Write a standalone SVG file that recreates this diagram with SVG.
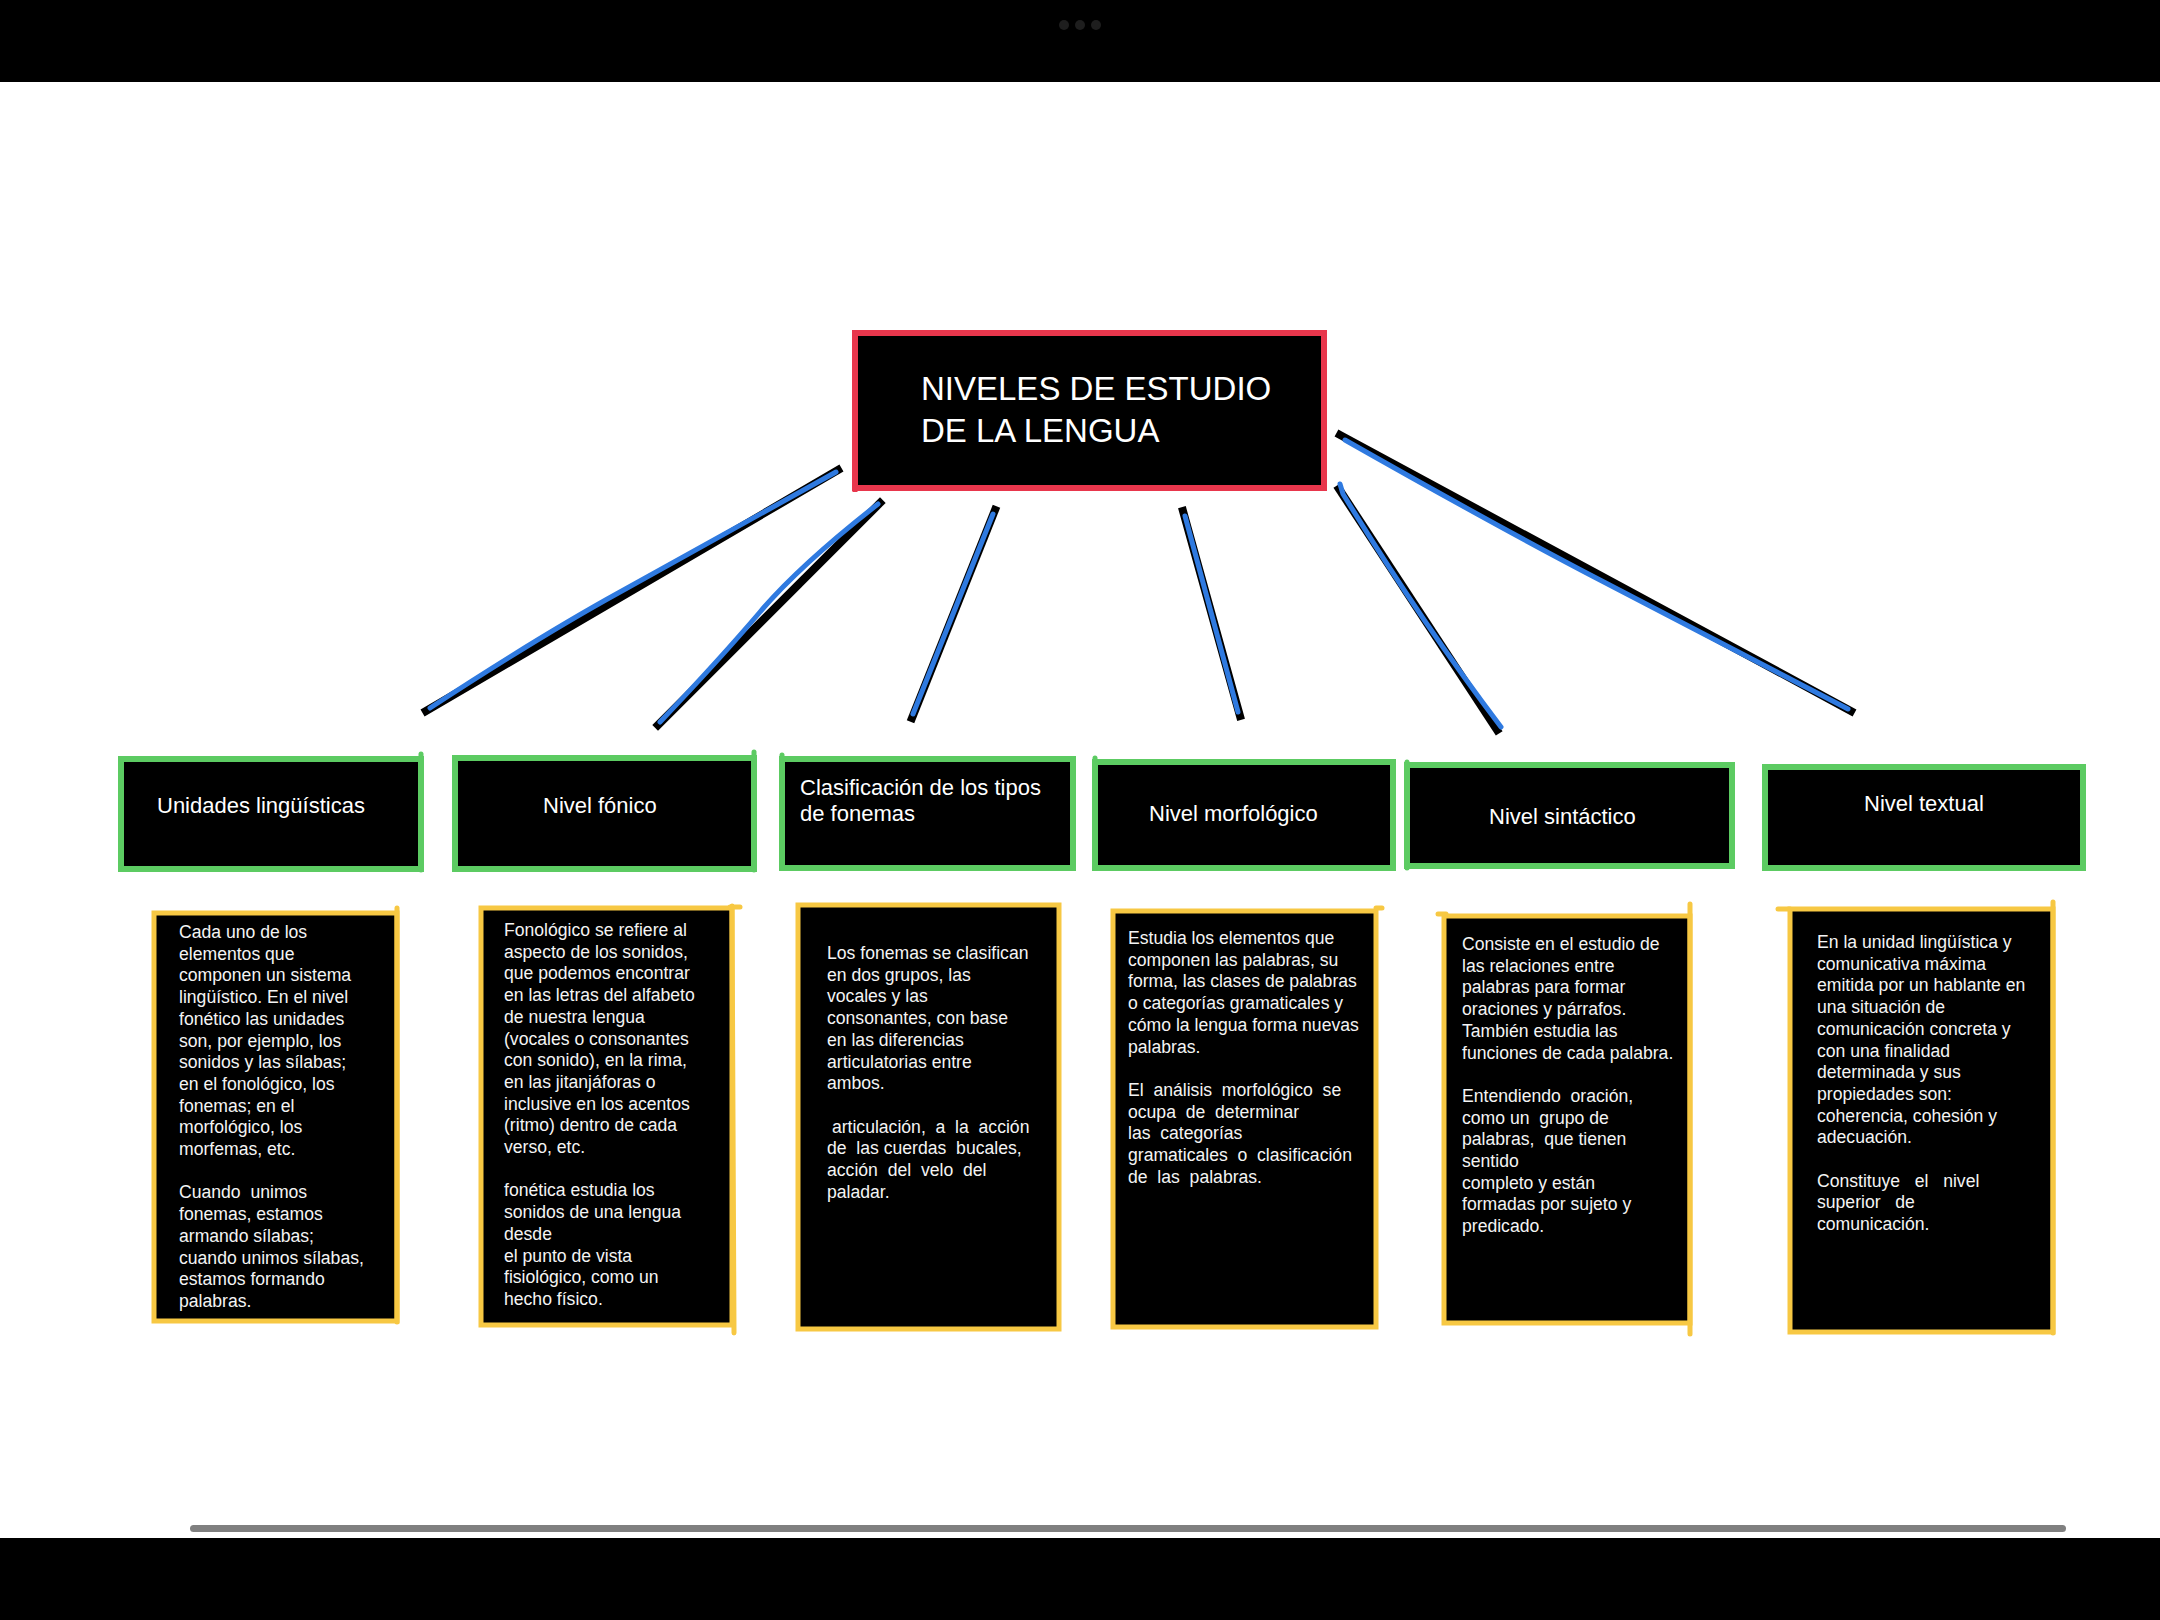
<svg xmlns="http://www.w3.org/2000/svg" width="2160" height="1620" viewBox="0 0 2160 1620">
<style>
.bg{fill:#ffffff}
.bar{fill:#000000}
.dot{fill:#1e1e1e}
.title{fill:#000;stroke:#e8364c;stroke-width:6}
.head{fill:#000;stroke:#5ccb62;stroke-width:6}
.body{fill:#000;stroke:#f7c843;stroke-width:5}
.ty{stroke:#f7c843;stroke-width:5;stroke-linecap:round;fill:none}
.tg{stroke:#5ccb62;stroke-width:5;stroke-linecap:round;fill:none}
.tt{font-family:"Liberation Sans",Arial,sans-serif;font-size:33px;fill:#ffffff}
.ht{font-family:"Liberation Sans",Arial,sans-serif;font-size:22px;fill:#ffffff}
.bt{font-family:"Liberation Sans",Arial,sans-serif;font-size:17.6px;fill:#f4f4f4;white-space:pre}
.lk{stroke:#000;stroke-width:8;stroke-linecap:square;fill:none}
.lb{stroke:#2f7ae0;stroke-width:5;stroke-linecap:round;fill:none}
</style>
<rect class="bg" x="0" y="0" width="2160" height="1620"/>
<rect class="bar" x="0" y="0" width="2160" height="82"/>
<circle class="dot" cx="1064" cy="25" r="5"/>
<circle class="dot" cx="1080" cy="25" r="5"/>
<circle class="dot" cx="1096" cy="25" r="5"/>
<rect class="bar" x="0" y="1538" width="2160" height="82"/>
<rect x="190" y="1525" width="1876" height="7" rx="3.5" fill="#808080"/>

<g id="connectors">
<line class="lk" x1="838" y1="470" x2="426" y2="711"/>
<path class="lb" d="M836 472 Q700 548 620 592 T430 708"/>
<line class="lk" x1="880" y1="503" x2="658" y2="725"/>
<path class="lb" d="M878 504 Q800 565 760 612 T660 722"/>
<line class="lk" x1="995" y1="510" x2="912" y2="718"/>
<line class="lb" x1="993" y1="514" x2="913" y2="714"/>
<line class="lk" x1="1183" y1="511" x2="1240" y2="716"/>
<line class="lb" x1="1185" y1="516" x2="1238" y2="712"/>
<line class="lk" x1="1339" y1="489" x2="1497" y2="730"/>
<path class="lb" d="M1340 484 L1343 494 Q1420 620 1501 727"/>
<line class="lk" x1="1340" y1="435" x2="1851" y2="711"/>
<path class="lb" d="M1345 440 Q1500 528 1600 580 T1848 709"/>
</g>

<g id="title">
<rect class="title" x="855" y="333" width="469" height="155"/>
<line x1="855" y1="330" x2="855" y2="492" stroke="#e8364c" stroke-width="5"/>
<text class="tt"><tspan x="921" y="400">NIVELES DE ESTUDIO</tspan><tspan x="921" y="442">DE LA LENGUA</tspan></text>
</g>

<g id="h1">
<rect class="head" x="121" y="759" width="300" height="110"/>
<line class="tg" x1="421" y1="754" x2="421" y2="870"/>
<text class="ht" x="157" y="813">Unidades lingüísticas</text>
</g>
<g id="h2">
<rect class="head" x="455" y="758" width="299" height="111"/>
<line class="tg" x1="754" y1="752" x2="754" y2="870"/>
<text class="ht" x="543" y="813">Nivel fónico</text>
</g>
<g id="h3">
<rect class="head" x="782" y="759" width="291" height="109"/>
<line class="tg" x1="782" y1="755" x2="782" y2="868"/>
<text class="ht"><tspan x="800" y="795">Clasificación de los tipos</tspan><tspan x="800" y="821">de fonemas</tspan></text>
</g>
<g id="h4">
<rect class="head" x="1095" y="762" width="298" height="106"/>
<line class="tg" x1="1095" y1="758" x2="1095" y2="868"/>
<text class="ht" x="1149" y="821">Nivel morfológico</text>
</g>
<g id="h5">
<rect class="head" x="1407" y="765" width="325" height="101"/>
<line class="tg" x1="1407" y1="762" x2="1407" y2="868"/>
<text class="ht" x="1489" y="824">Nivel sintáctico</text>
</g>
<g id="h6">
<rect class="head" x="1765" y="767" width="318" height="101"/>
<text class="ht" x="1864" y="811">Nivel textual</text>
</g>

<g id="b1">
<rect class="body" x="154" y="913" width="243" height="408"/>
<line class="ty" x1="397" y1="908" x2="397" y2="1322"/>
<text class="bt" xml:space="preserve"><tspan x="179" y="938">Cada uno de los</tspan><tspan x="179" dy="21.7">elementos que</tspan><tspan x="179" dy="21.7">componen un sistema</tspan><tspan x="179" dy="21.7">lingüístico. En el nivel</tspan><tspan x="179" dy="21.7">fonético las unidades</tspan><tspan x="179" dy="21.7">son, por ejemplo, los</tspan><tspan x="179" dy="21.7">sonidos y las sílabas;</tspan><tspan x="179" dy="21.7">en el fonológico, los</tspan><tspan x="179" dy="21.7">fonemas; en el</tspan><tspan x="179" dy="21.7">morfológico, los</tspan><tspan x="179" dy="21.7">morfemas, etc.</tspan><tspan x="179" dy="43.4">Cuando  unimos</tspan><tspan x="179" dy="21.7">fonemas, estamos</tspan><tspan x="179" dy="21.7">armando sílabas;</tspan><tspan x="179" dy="21.7">cuando unimos sílabas,</tspan><tspan x="179" dy="21.7">estamos formando</tspan><tspan x="179" dy="21.7">palabras.</tspan></text>
</g>

<g id="b2">
<rect class="body" x="481" y="908" width="251" height="417"/>
<line class="ty" x1="732" y1="906" x2="734" y2="1333"/>
<line class="ty" x1="730" y1="907" x2="740" y2="907"/>
<text class="bt" xml:space="preserve"><tspan x="504" y="936">Fonológico se refiere al</tspan><tspan x="504" dy="21.7">aspecto de los sonidos,</tspan><tspan x="504" dy="21.7">que podemos encontrar</tspan><tspan x="504" dy="21.7">en las letras del alfabeto</tspan><tspan x="504" dy="21.7">de nuestra lengua</tspan><tspan x="504" dy="21.7">(vocales o consonantes</tspan><tspan x="504" dy="21.7">con sonido), en la rima,</tspan><tspan x="504" dy="21.7">en las jitanjáforas o</tspan><tspan x="504" dy="21.7">inclusive en los acentos</tspan><tspan x="504" dy="21.7">(ritmo) dentro de cada</tspan><tspan x="504" dy="21.7">verso, etc.</tspan><tspan x="504" dy="43.4">fonética estudia los</tspan><tspan x="504" dy="21.7">sonidos de una lengua</tspan><tspan x="504" dy="21.7">desde</tspan><tspan x="504" dy="21.7">el punto de vista</tspan><tspan x="504" dy="21.7">fisiológico, como un</tspan><tspan x="504" dy="21.7">hecho físico.</tspan></text>
</g>

<g id="b3">
<rect class="body" x="798" y="905" width="261" height="424"/>
<text class="bt" xml:space="preserve"><tspan x="827" y="959">Los fonemas se clasifican</tspan><tspan x="827" dy="21.7">en dos grupos, las</tspan><tspan x="827" dy="21.7">vocales y las</tspan><tspan x="827" dy="21.7">consonantes, con base</tspan><tspan x="827" dy="21.7">en las diferencias</tspan><tspan x="827" dy="21.7">articulatorias entre</tspan><tspan x="827" dy="21.7">ambos.</tspan><tspan x="827" dy="43.4"> articulación,  a  la  acción</tspan><tspan x="827" dy="21.7">de  las cuerdas  bucales,</tspan><tspan x="827" dy="21.7">acción  del  velo  del</tspan><tspan x="827" dy="21.7">paladar.</tspan></text>
</g>

<g id="b4">
<rect class="body" x="1113" y="911" width="263" height="416"/>
<line class="ty" x1="1376" y1="908" x2="1382" y2="908"/>
<text class="bt" xml:space="preserve"><tspan x="1128" y="944">Estudia los elementos que</tspan><tspan x="1128" dy="21.7">componen las palabras, su</tspan><tspan x="1128" dy="21.7">forma, las clases de palabras</tspan><tspan x="1128" dy="21.7">o categorías gramaticales y</tspan><tspan x="1128" dy="21.7">cómo la lengua forma nuevas</tspan><tspan x="1128" dy="21.7">palabras.</tspan><tspan x="1128" dy="43.4">El  análisis  morfológico  se</tspan><tspan x="1128" dy="21.7">ocupa  de  determinar</tspan><tspan x="1128" dy="21.7">las  categorías</tspan><tspan x="1128" dy="21.7">gramaticales  o  clasificación</tspan><tspan x="1128" dy="21.7">de  las  palabras.</tspan></text>
</g>

<g id="b5">
<rect class="body" x="1444" y="916" width="246" height="407"/>
<line class="ty" x1="1690" y1="904" x2="1690" y2="1334"/>
<line class="ty" x1="1438" y1="914" x2="1446" y2="914"/>
<text class="bt" xml:space="preserve"><tspan x="1462" y="950">Consiste en el estudio de</tspan><tspan x="1462" dy="21.7">las relaciones entre</tspan><tspan x="1462" dy="21.7">palabras para formar</tspan><tspan x="1462" dy="21.7">oraciones y párrafos.</tspan><tspan x="1462" dy="21.7">También estudia las</tspan><tspan x="1462" dy="21.7">funciones de cada palabra.</tspan><tspan x="1462" dy="43.4">Entendiendo  oración,</tspan><tspan x="1462" dy="21.7">como un  grupo de</tspan><tspan x="1462" dy="21.7">palabras,  que tienen</tspan><tspan x="1462" dy="21.7">sentido</tspan><tspan x="1462" dy="21.7">completo y están</tspan><tspan x="1462" dy="21.7">formadas por sujeto y</tspan><tspan x="1462" dy="21.7">predicado.</tspan></text>
</g>

<g id="b6">
<rect class="body" x="1790" y="909" width="263" height="423"/>
<line class="ty" x1="2053" y1="902" x2="2053" y2="1333"/>
<line class="ty" x1="1778" y1="909" x2="1790" y2="909"/>
<text class="bt" xml:space="preserve"><tspan x="1817" y="948">En la unidad lingüística y</tspan><tspan x="1817" dy="21.7">comunicativa máxima</tspan><tspan x="1817" dy="21.7">emitida por un hablante en</tspan><tspan x="1817" dy="21.7">una situación de</tspan><tspan x="1817" dy="21.7">comunicación concreta y</tspan><tspan x="1817" dy="21.7">con una finalidad</tspan><tspan x="1817" dy="21.7">determinada y sus</tspan><tspan x="1817" dy="21.7">propiedades son:</tspan><tspan x="1817" dy="21.7">coherencia, cohesión y</tspan><tspan x="1817" dy="21.7">adecuación.</tspan><tspan x="1817" dy="43.4">Constituye   el   nivel</tspan><tspan x="1817" dy="21.7">superior   de</tspan><tspan x="1817" dy="21.7">comunicación.</tspan></text>
</g>
</svg>
